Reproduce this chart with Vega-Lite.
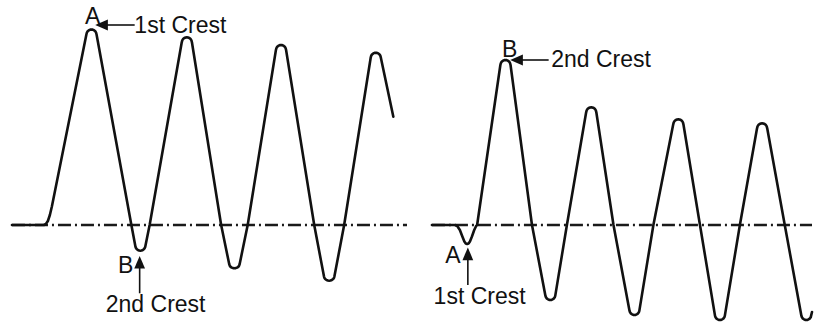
{
  "$schema": "https://vega.github.io/schema/vega-lite/v6.json",
  "width": 814,
  "height": 323,
  "autosize": {"type": "fit", "contains": "padding"},
  "padding": 0,
  "background": "white",
  "config": {"view": {"stroke": null}},
  "datasets": {
    "wave": [
      {"panel": "left", "t": 12, "level": 0},
      {"panel": "left", "t": 44, "level": 0},
      {"panel": "left", "t": 46, "level": 1},
      {"panel": "left", "t": 48, "level": 4},
      {"panel": "left", "t": 50, "level": 10},
      {"panel": "left", "t": 52, "level": 18.5},
      {"panel": "left", "t": 86.6, "level": 190.5},
      {"panel": "left", "t": 87.1, "level": 192.4},
      {"panel": "left", "t": 87.9, "level": 193.7},
      {"panel": "left", "t": 89.2, "level": 194.8},
      {"panel": "left", "t": 90.5, "level": 195.35},
      {"panel": "left", "t": 91.7, "level": 195.5},
      {"panel": "left", "t": 92.9, "level": 195.35},
      {"panel": "left", "t": 94.2, "level": 194.8},
      {"panel": "left", "t": 95.5, "level": 193.7},
      {"panel": "left", "t": 96.3, "level": 192.4},
      {"panel": "left", "t": 96.8, "level": 190.5},
      {"panel": "left", "t": 131.7, "level": 0},
      {"panel": "left", "t": 135.8, "level": -21.7},
      {"panel": "left", "t": 136.3, "level": -23.07},
      {"panel": "left", "t": 137.0, "level": -24.06},
      {"panel": "left", "t": 138.2, "level": -25.03},
      {"panel": "left", "t": 139.5, "level": -25.55},
      {"panel": "left", "t": 140.7, "level": -25.7},
      {"panel": "left", "t": 141.9, "level": -25.55},
      {"panel": "left", "t": 143.2, "level": -25.03},
      {"panel": "left", "t": 144.4, "level": -24.06},
      {"panel": "left", "t": 145.1, "level": -23.07},
      {"panel": "left", "t": 145.6, "level": -21.7},
      {"panel": "left", "t": 150, "level": 0},
      {"panel": "left", "t": 182.2, "level": 182.7},
      {"panel": "left", "t": 182.7, "level": 184.6},
      {"panel": "left", "t": 183.5, "level": 185.9},
      {"panel": "left", "t": 184.8, "level": 187.0},
      {"panel": "left", "t": 186.1, "level": 187.55},
      {"panel": "left", "t": 187.3, "level": 187.7},
      {"panel": "left", "t": 188.5, "level": 187.55},
      {"panel": "left", "t": 189.8, "level": 187.0},
      {"panel": "left", "t": 191.1, "level": 185.9},
      {"panel": "left", "t": 191.9, "level": 184.6},
      {"panel": "left", "t": 192.4, "level": 182.7},
      {"panel": "left", "t": 221.7, "level": 0},
      {"panel": "left", "t": 229.8, "level": -39.3},
      {"panel": "left", "t": 230.3, "level": -40.67},
      {"panel": "left", "t": 231.0, "level": -41.66},
      {"panel": "left", "t": 232.3, "level": -42.63},
      {"panel": "left", "t": 233.7, "level": -43.15},
      {"panel": "left", "t": 235.0, "level": -43.3},
      {"panel": "left", "t": 236.3, "level": -43.15},
      {"panel": "left", "t": 237.7, "level": -42.63},
      {"panel": "left", "t": 239.0, "level": -41.66},
      {"panel": "left", "t": 239.7, "level": -40.67},
      {"panel": "left", "t": 240.2, "level": -39.3},
      {"panel": "left", "t": 248.3, "level": 0},
      {"panel": "left", "t": 276.6, "level": 175},
      {"panel": "left", "t": 277.1, "level": 176.9},
      {"panel": "left", "t": 277.9, "level": 178.2},
      {"panel": "left", "t": 279.2, "level": 179.3},
      {"panel": "left", "t": 280.5, "level": 179.85},
      {"panel": "left", "t": 281.7, "level": 180},
      {"panel": "left", "t": 282.9, "level": 179.85},
      {"panel": "left", "t": 284.2, "level": 179.3},
      {"panel": "left", "t": 285.5, "level": 178.2},
      {"panel": "left", "t": 286.3, "level": 176.9},
      {"panel": "left", "t": 286.8, "level": 175},
      {"panel": "left", "t": 315, "level": 0},
      {"panel": "left", "t": 324.8, "level": -51.6},
      {"panel": "left", "t": 325.3, "level": -53.07},
      {"panel": "left", "t": 326.0, "level": -54.06},
      {"panel": "left", "t": 327.3, "level": -55.03},
      {"panel": "left", "t": 328.7, "level": -55.55},
      {"panel": "left", "t": 330.0, "level": -55.7},
      {"panel": "left", "t": 331.3, "level": -55.55},
      {"panel": "left", "t": 332.7, "level": -55.03},
      {"panel": "left", "t": 334.0, "level": -54.06},
      {"panel": "left", "t": 334.7, "level": -53.07},
      {"panel": "left", "t": 335.2, "level": -51.6},
      {"panel": "left", "t": 345, "level": 0},
      {"panel": "left", "t": 371.6, "level": 167.3},
      {"panel": "left", "t": 372.1, "level": 169.2},
      {"panel": "left", "t": 372.9, "level": 170.5},
      {"panel": "left", "t": 374.2, "level": 171.6},
      {"panel": "left", "t": 375.5, "level": 172.15},
      {"panel": "left", "t": 376.7, "level": 172.3},
      {"panel": "left", "t": 377.9, "level": 172.15},
      {"panel": "left", "t": 379.2, "level": 171.6},
      {"panel": "left", "t": 380.5, "level": 170.5},
      {"panel": "left", "t": 381.3, "level": 169.2},
      {"panel": "left", "t": 381.8, "level": 167.3},
      {"panel": "left", "t": 394.3, "level": 108.3},

      {"panel": "right", "t": 433, "level": 0},
      {"panel": "right", "t": 456, "level": 0},
      {"panel": "right", "t": 458.5, "level": -1.2},
      {"panel": "right", "t": 461, "level": -5},
      {"panel": "right", "t": 463.5, "level": -11.5},
      {"panel": "right", "t": 465.5, "level": -16.5},
      {"panel": "right", "t": 466.9, "level": -18.5},
      {"panel": "right", "t": 468.3, "level": -19},
      {"panel": "right", "t": 469.7, "level": -18.5},
      {"panel": "right", "t": 471.1, "level": -16.5},
      {"panel": "right", "t": 473.1, "level": -11.5},
      {"panel": "right", "t": 475.4, "level": -5},
      {"panel": "right", "t": 477.2, "level": -1.2},
      {"panel": "right", "t": 478.3, "level": 0},
      {"panel": "right", "t": 501.6, "level": 160},
      {"panel": "right", "t": 502.1, "level": 161.9},
      {"panel": "right", "t": 502.9, "level": 163.2},
      {"panel": "right", "t": 504.2, "level": 164.3},
      {"panel": "right", "t": 505.5, "level": 164.85},
      {"panel": "right", "t": 506.7, "level": 165},
      {"panel": "right", "t": 507.9, "level": 164.85},
      {"panel": "right", "t": 509.2, "level": 164.3},
      {"panel": "right", "t": 510.5, "level": 163.2},
      {"panel": "right", "t": 511.3, "level": 161.9},
      {"panel": "right", "t": 511.8, "level": 160},
      {"panel": "right", "t": 533.3, "level": 0},
      {"panel": "right", "t": 546.8, "level": -70.9},
      {"panel": "right", "t": 547.3, "level": -72.37},
      {"panel": "right", "t": 548.0, "level": -73.36},
      {"panel": "right", "t": 549.3, "level": -74.33},
      {"panel": "right", "t": 550.5, "level": -74.85},
      {"panel": "right", "t": 551.7, "level": -75},
      {"panel": "right", "t": 552.9, "level": -74.85},
      {"panel": "right", "t": 554.1, "level": -74.33},
      {"panel": "right", "t": 555.4, "level": -73.36},
      {"panel": "right", "t": 556.1, "level": -72.37},
      {"panel": "right", "t": 556.6, "level": -70.9},
      {"panel": "right", "t": 568.3, "level": 0},
      {"panel": "right", "t": 587.6, "level": 112.7},
      {"panel": "right", "t": 588.1, "level": 114.6},
      {"panel": "right", "t": 588.9, "level": 115.9},
      {"panel": "right", "t": 590.2, "level": 117.0},
      {"panel": "right", "t": 591.5, "level": 117.55},
      {"panel": "right", "t": 592.7, "level": 117.7},
      {"panel": "right", "t": 593.9, "level": 117.55},
      {"panel": "right", "t": 595.2, "level": 117.0},
      {"panel": "right", "t": 596.5, "level": 115.9},
      {"panel": "right", "t": 597.3, "level": 114.6},
      {"panel": "right", "t": 597.8, "level": 112.7},
      {"panel": "right", "t": 615, "level": 0},
      {"panel": "right", "t": 631.1, "level": -85.9},
      {"panel": "right", "t": 631.6, "level": -87.37},
      {"panel": "right", "t": 632.3, "level": -88.36},
      {"panel": "right", "t": 633.6, "level": -89.33},
      {"panel": "right", "t": 634.8, "level": -89.85},
      {"panel": "right", "t": 636.0, "level": -90},
      {"panel": "right", "t": 637.2, "level": -89.85},
      {"panel": "right", "t": 638.4, "level": -89.33},
      {"panel": "right", "t": 639.7, "level": -88.36},
      {"panel": "right", "t": 640.4, "level": -87.37},
      {"panel": "right", "t": 640.9, "level": -85.9},
      {"panel": "right", "t": 655, "level": 0},
      {"panel": "right", "t": 674.9, "level": 100.7},
      {"panel": "right", "t": 675.4, "level": 102.6},
      {"panel": "right", "t": 676.2, "level": 103.9},
      {"panel": "right", "t": 677.5, "level": 105.0},
      {"panel": "right", "t": 678.8, "level": 105.55},
      {"panel": "right", "t": 680.0, "level": 105.7},
      {"panel": "right", "t": 681.2, "level": 105.55},
      {"panel": "right", "t": 682.5, "level": 105.0},
      {"panel": "right", "t": 683.8, "level": 103.9},
      {"panel": "right", "t": 684.6, "level": 102.6},
      {"panel": "right", "t": 685.1, "level": 100.7},
      {"panel": "right", "t": 701.7, "level": 0},
      {"panel": "right", "t": 716.8, "level": -90.9},
      {"panel": "right", "t": 717.3, "level": -92.37},
      {"panel": "right", "t": 718.0, "level": -93.36},
      {"panel": "right", "t": 719.3, "level": -94.33},
      {"panel": "right", "t": 720.5, "level": -94.85},
      {"panel": "right", "t": 721.7, "level": -95},
      {"panel": "right", "t": 722.9, "level": -94.85},
      {"panel": "right", "t": 724.1, "level": -94.33},
      {"panel": "right", "t": 725.4, "level": -93.36},
      {"panel": "right", "t": 726.1, "level": -92.37},
      {"panel": "right", "t": 726.6, "level": -90.9},
      {"panel": "right", "t": 741.7, "level": 0},
      {"panel": "right", "t": 758.9, "level": 96.7},
      {"panel": "right", "t": 759.4, "level": 98.6},
      {"panel": "right", "t": 760.2, "level": 99.9},
      {"panel": "right", "t": 761.5, "level": 101.0},
      {"panel": "right", "t": 762.8, "level": 101.55},
      {"panel": "right", "t": 764.0, "level": 101.7},
      {"panel": "right", "t": 765.2, "level": 101.55},
      {"panel": "right", "t": 766.5, "level": 101.0},
      {"panel": "right", "t": 767.8, "level": 99.9},
      {"panel": "right", "t": 768.6, "level": 98.6},
      {"panel": "right", "t": 769.1, "level": 96.7},
      {"panel": "right", "t": 786.7, "level": 0},
      {"panel": "right", "t": 803.4, "level": -90.9},
      {"panel": "right", "t": 803.9, "level": -92.37},
      {"panel": "right", "t": 804.6, "level": -93.36},
      {"panel": "right", "t": 805.9, "level": -94.33},
      {"panel": "right", "t": 807.1, "level": -94.85},
      {"panel": "right", "t": 808.3, "level": -95},
      {"panel": "right", "t": 809.5, "level": -94.85},
      {"panel": "right", "t": 810.7, "level": -94.33},
      {"panel": "right", "t": 812.0, "level": -93.36},
      {"panel": "right", "t": 812.7, "level": -92.37},
      {"panel": "right", "t": 814, "level": -87}
    ],
    "baselines": [
      {"panel": "left", "t0": 12, "t1": 408, "level": 0},
      {"panel": "right", "t0": 433, "t1": 814, "level": 0}
    ],
    "shafts": [
      {"t0": 104, "t1": 135, "l0": 200, "l1": 200},
      {"t0": 140, "t1": 140, "l0": -40, "l1": -68.3},
      {"t0": 520, "t1": 550, "l0": 165, "l1": 165},
      {"t0": 469, "t1": 469, "l0": -32, "l1": -60}
    ],
    "heads": [
      {"t": 101.8, "level": 200, "dir": "left"},
      {"t": 140, "level": -37.2, "dir": "up"},
      {"t": 517.8, "level": 165, "dir": "left"},
      {"t": 469, "level": -28.8, "dir": "up"}
    ],
    "labels": [
      {"t": 92.8, "level": 201, "label": "A"},
      {"t": 180.8, "level": 191.7, "label": "1st Crest"},
      {"t": 126, "level": -48.3, "label": "B"},
      {"t": 156, "level": -87, "label": "2nd Crest"},
      {"t": 511, "level": 168.3, "label": "B"},
      {"t": 602.5, "level": 158.3, "label": "2nd Crest"},
      {"t": 454, "level": -37.7, "label": "A"},
      {"t": 480.8, "level": -79, "label": "1st Crest"}
    ]
  },
  "layer": [
    {
      "data": {"name": "baselines"},
      "mark": {"type": "rule", "color": "#1a1a1a", "strokeWidth": 2.4, "strokeDash": [13, 4, 2, 4]},
      "encoding": {
        "x": {"field": "t0", "type": "quantitative", "scale": {"domain": [0, 814], "nice": false, "zero": false}, "axis": null},
        "x2": {"field": "t1"},
        "y": {"field": "level", "type": "quantitative", "scale": {"domain": [-98, 225], "nice": false, "zero": false}, "axis": null}
      }
    },
    {
      "data": {"name": "wave"},
      "mark": {"type": "line", "interpolate": "linear", "color": "#111111", "strokeWidth": 2.6, "strokeJoin": "round", "strokeCap": "round"},
      "encoding": {
        "x": {"field": "t", "type": "quantitative"},
        "y": {"field": "level", "type": "quantitative"},
        "detail": {"field": "panel"}
      }
    },
    {
      "data": {"name": "shafts"},
      "mark": {"type": "rule", "color": "#111111", "strokeWidth": 1.6},
      "encoding": {
        "x": {"field": "t0", "type": "quantitative"},
        "x2": {"field": "t1"},
        "y": {"field": "l0", "type": "quantitative"},
        "y2": {"field": "l1"}
      }
    },
    {
      "data": {"name": "heads"},
      "transform": [{"filter": "datum.dir === 'left'"}],
      "mark": {"type": "point", "shape": "M-1,0L1,-0.85L1,0.85Z", "filled": true, "color": "#111111", "size": 160, "opacity": 1},
      "encoding": {
        "x": {"field": "t", "type": "quantitative"},
        "y": {"field": "level", "type": "quantitative"}
      }
    },
    {
      "data": {"name": "heads"},
      "transform": [{"filter": "datum.dir === 'up'"}],
      "mark": {"type": "point", "shape": "M0,-1L-0.85,1L0.85,1Z", "filled": true, "color": "#111111", "size": 160, "opacity": 1},
      "encoding": {
        "x": {"field": "t", "type": "quantitative"},
        "y": {"field": "level", "type": "quantitative"}
      }
    },
    {
      "data": {"name": "labels"},
      "mark": {"type": "text", "font": "Liberation Sans", "fontSize": 23, "color": "#111111", "align": "center", "baseline": "alphabetic"},
      "encoding": {
        "x": {"field": "t", "type": "quantitative"},
        "y": {"field": "level", "type": "quantitative"},
        "text": {"field": "label"}
      }
    }
  ]
}
